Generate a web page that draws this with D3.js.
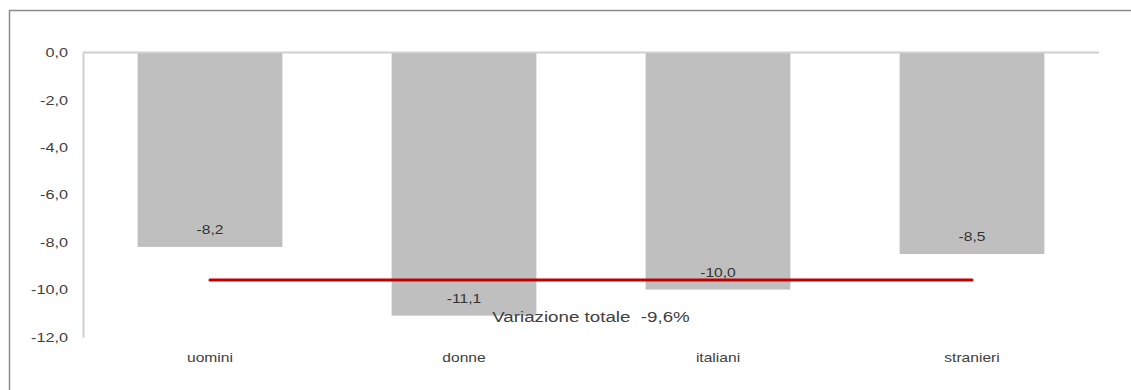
<!DOCTYPE html>
<html>
<head>
<meta charset="utf-8">
<script src="https://cdn.jsdelivr.net/npm/d3@7"></script>
<style>
  html, body { margin: 0; padding: 0; background: #fff; }
  svg { display: block; font-family: "Liberation Sans", Arial, sans-serif; }
</style>
</head>
<body>
<svg id="chart" width="1131" height="390"></svg>
<script>
// Variazione percentuale per gruppo
const categories = ["uomini", "donne", "italiani", "stranieri"];
const values = [-8.2, -11.1, -10.0, -8.5];
const totalValue = -9.6;
const totalLabel = "Variazione totale  -9,6%";
const yTicks = [0, -2, -4, -6, -8, -10, -12];

const svg = d3.select("#chart");
const W = 1131, H = 390;
const TEXT_STRETCH = 1.25; // wide lettering

// frame around the chart area
svg.append("rect")
  .attr("x", 9.5).attr("y", 10.5)
  .attr("width", W + 10).attr("height", H + 10)
  .attr("fill", "none").attr("stroke", "#8c8c8c").attr("stroke-width", 1.5);

const plot = { left: 83, right: 1099, top: 52.5, bottom: 337 };

const x = d3.scaleBand()
  .domain(categories)
  .range([plot.left, plot.right])
  .paddingInner(0.43)
  .paddingOuter(0.215);

const y = d3.scaleLinear()
  .domain([-12, 0])
  .range([plot.bottom, plot.top]);

const fmt = v => d3.format(".1f")(v).replace("−", "-").replace(".", ",");
const cx = c => x(c) + x.bandwidth() / 2;

// bars
svg.append("g").selectAll("rect")
  .data(values)
  .join("rect")
  .attr("x", (d, i) => x(categories[i]))
  .attr("y", y(0))
  .attr("width", x.bandwidth())
  .attr("height", d => y(d) - y(0))
  .attr("fill", "#bfbfbf");

// y axis
const yAxis = svg.append("g")
  .attr("transform", `translate(${plot.left},0)`)
  .call(d3.axisLeft(y).tickValues(yTicks).tickSize(0).tickPadding(12).tickFormat(fmt));
yAxis.select(".domain").attr("stroke", "#cfcfcf").attr("stroke-width", 2);
yAxis.selectAll("text")
  .attr("fill", "#404040")
  .attr("transform", `scale(${TEXT_STRETCH},1)`)
  .style("font-size", "13px")
  .style("font-family", "'Liberation Sans', Arial, sans-serif");

// zero line
svg.append("line")
  .attr("x1", plot.left).attr("x2", plot.right)
  .attr("y1", y(0)).attr("y2", y(0))
  .attr("stroke", "#d0d0d0").attr("stroke-width", 2);

// category labels
const xAxis = svg.append("g")
  .attr("transform", `translate(0,${plot.bottom + 25})`)
  .call(d3.axisBottom(x).tickSize(0).tickPadding(0));
xAxis.select(".domain").remove();
xAxis.selectAll("text")
  .attr("dy", 0)
  .attr("fill", "#404040")
  .attr("transform", `scale(${TEXT_STRETCH},1)`)
  .style("font-size", "12.5px")
  .style("font-family", "'Liberation Sans', Arial, sans-serif");

// total change line
svg.append("line")
  .attr("x1", cx(categories[0])).attr("x2", cx(categories[categories.length - 1]))
  .attr("y1", y(totalValue)).attr("y2", y(totalValue))
  .attr("stroke", "#c00000").attr("stroke-width", 3)
  .attr("stroke-linecap", "round");

// value labels inside bars
svg.append("g").selectAll("text")
  .data(values)
  .join("text")
  .attr("transform", (d, i) => `translate(${cx(categories[i])},${y(d) - 13}) scale(${TEXT_STRETCH},1)`)
  .attr("text-anchor", "middle")
  .attr("fill", "#333")
  .style("font-size", "12.5px")
  .text(fmt);

// total label
const midX = (cx(categories[1]) + cx(categories[2])) / 2;
svg.append("text")
  .attr("transform", `translate(${midX},${y(totalValue) + 42}) scale(${TEXT_STRETCH},1)`)
  .attr("text-anchor", "middle")
  .attr("fill", "#404040")
  .style("font-size", "15px")
  .style("white-space", "pre")
  .text(totalLabel);
</script>
</body>
</html>
